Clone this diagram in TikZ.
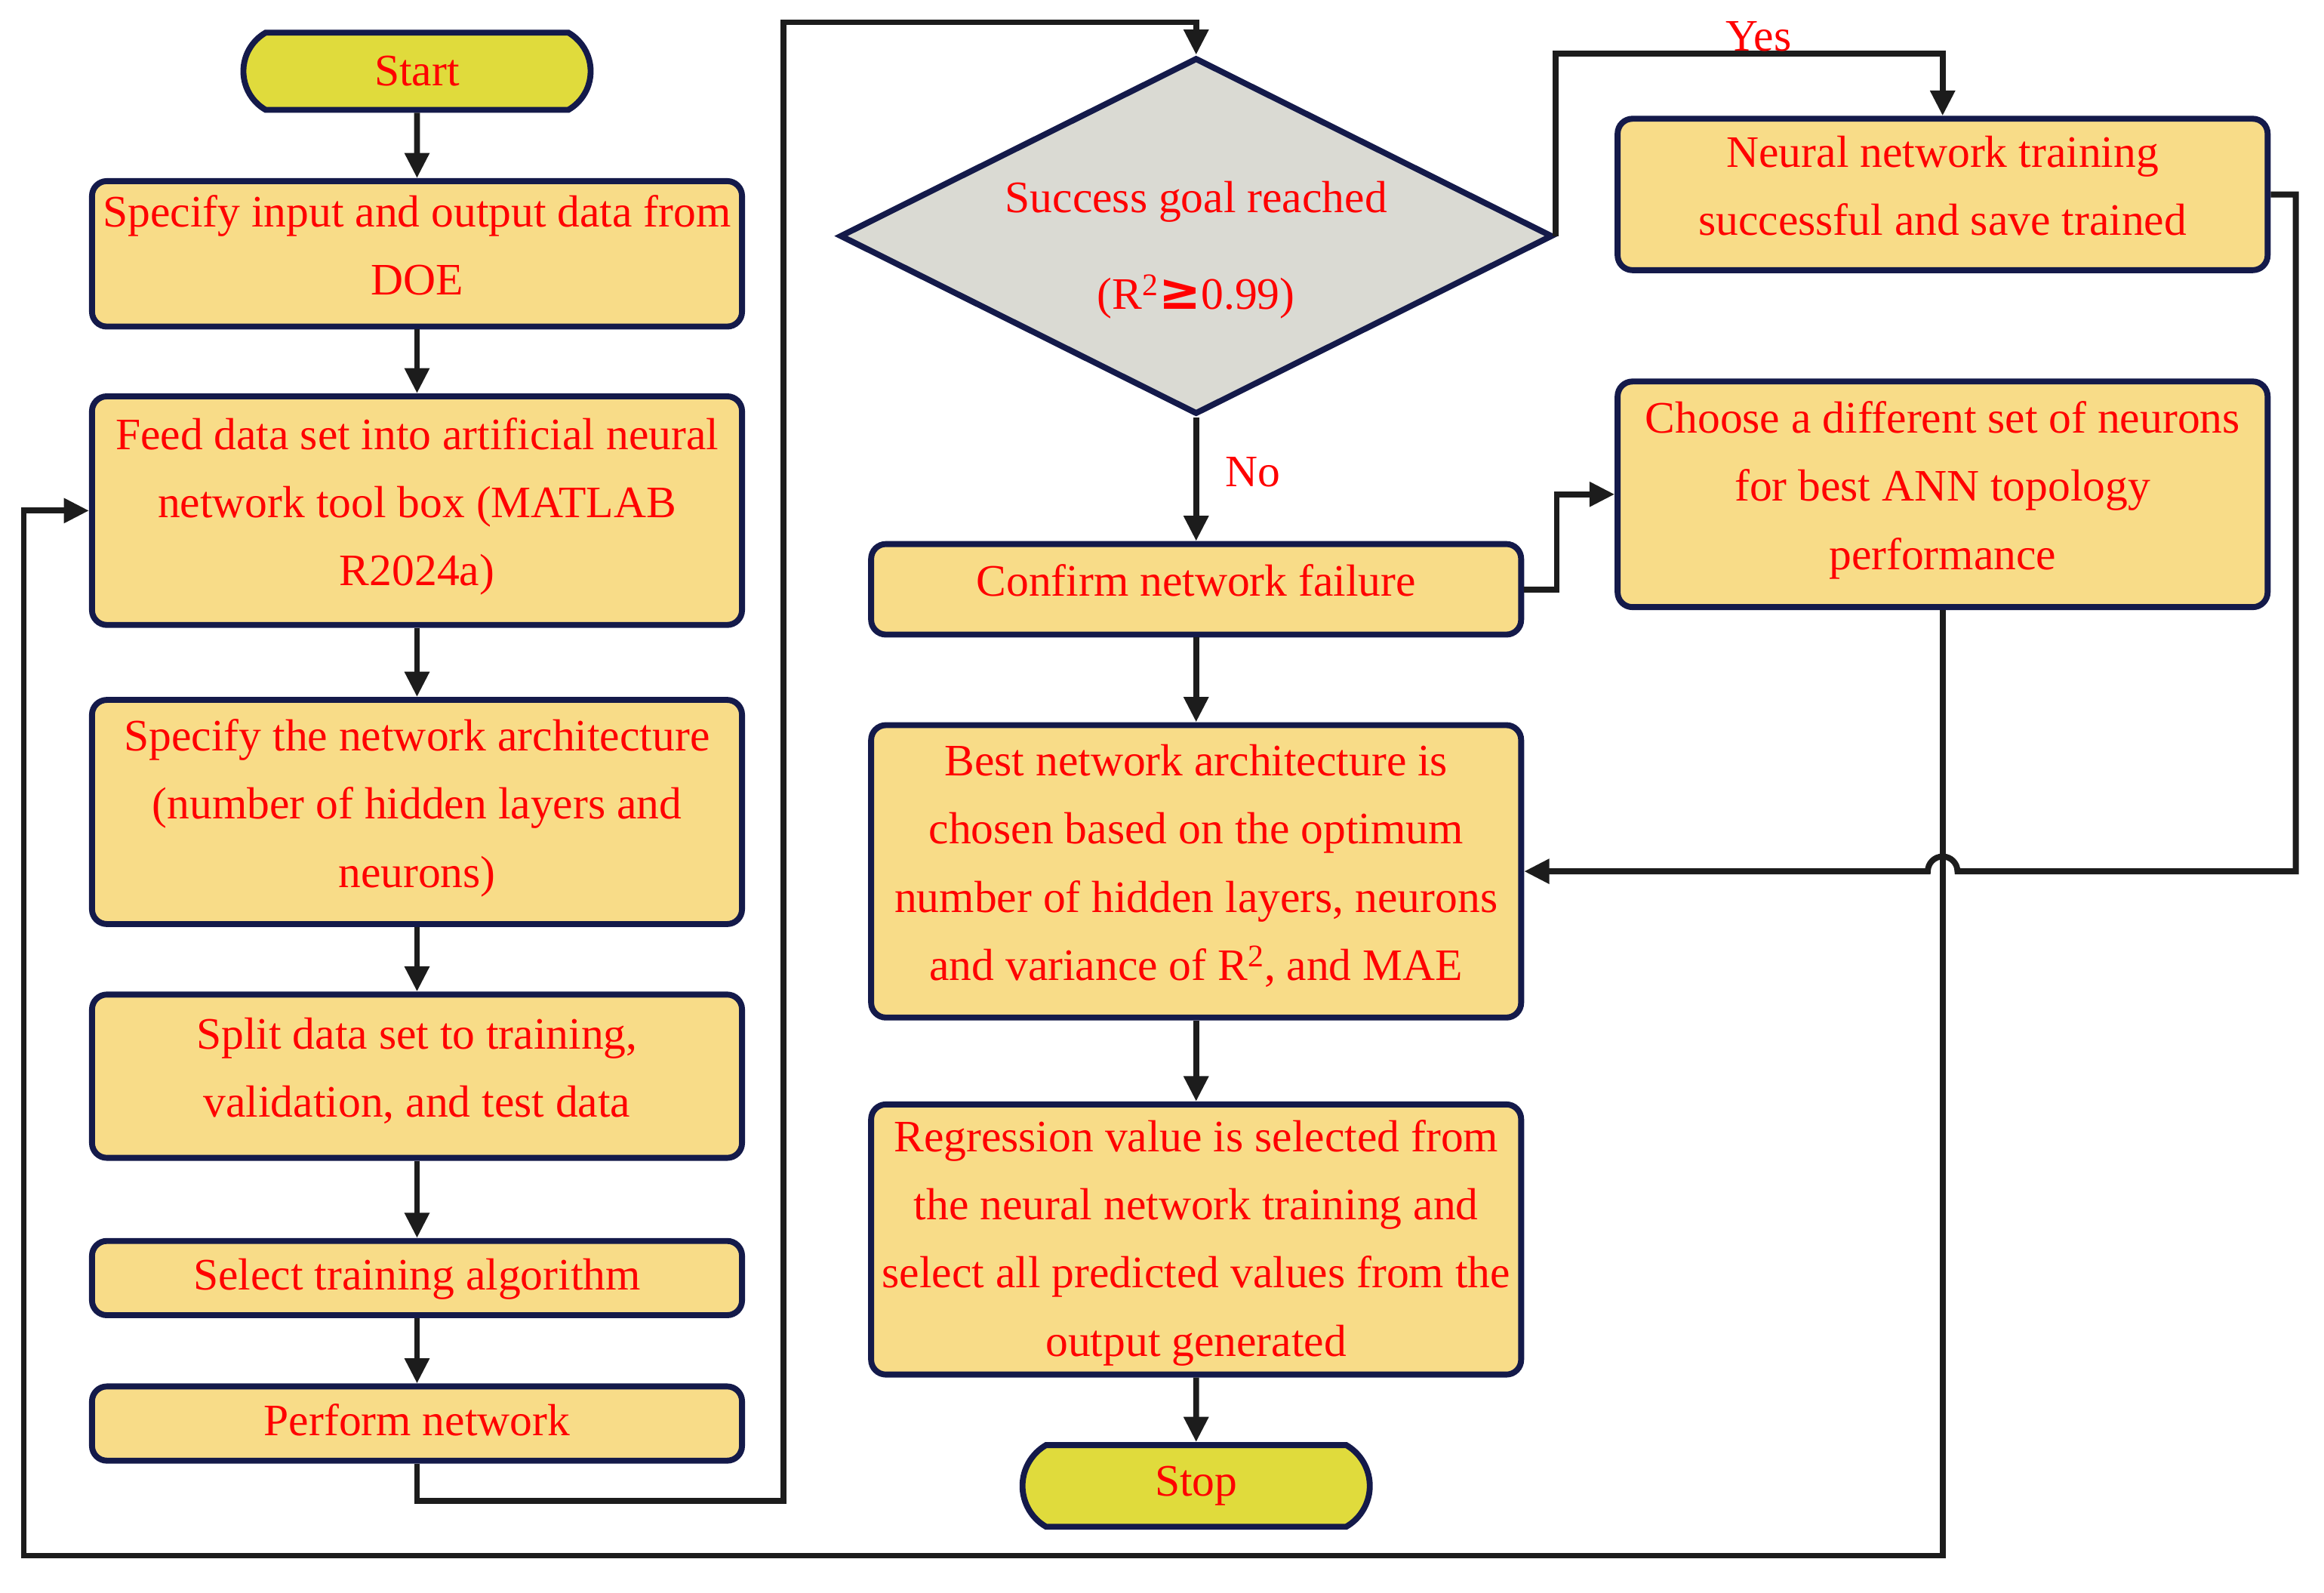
\documentclass[tikz,border=0pt]{standalone}
\usepackage{fontspec}
\setmainfont{Liberation Serif}
\newfontfamily\symbolfont{DejaVu Sans}
\usetikzlibrary{arrows.meta,shapes.geometric,shapes.misc}

\definecolor{boxfill}{HTML}{F8DC88}
\definecolor{termfill}{HTML}{E0DB3C}
\definecolor{decfill}{HTML}{DADAD3}
\definecolor{edgeblue}{HTML}{141A4A}
\definecolor{flowgray}{HTML}{1C1C1C}

\begin{document}
\begin{tikzpicture}[x=1pt, y=1pt,
  base/.style={draw=edgeblue, line width=4pt, text=red, align=center,
    font=\fontsize{30.3}{46}\selectfont, inner sep=3pt},
  box/.style={base, rectangle, rounded corners=10pt, fill=boxfill,
    minimum width=438pt, text depth=12pt},
  term/.style={base, rounded rectangle, rounded rectangle arc length=120,
    fill=termfill, minimum width=240pt, minimum height=52pt},
  decision/.style={base, diamond, aspect=2, fill=decfill, inner sep=0pt,
    minimum width=468pt, minimum height=234pt},
  flow/.style={draw=flowgray, line width=4pt, -{Triangle[length=17pt,width=16pt]}},
  tag/.style={text=red, font=\fontsize{30.3}{36}\selectfont, inner sep=1pt}
]
\useasboundingbox (0,0) rectangle (1566,-1073);

% left column
\node[term] (start) at (281,-48) {Start};
\node[box, minimum height=98pt] (doe) at (281,-171) {Specify input and output data from\\DOE};
\node[box, minimum height=154pt] (feed) at (281,-344) {Feed data set into artificial neural\\network tool box (MATLAB\\R2024a)};
\node[box, minimum height=151pt] (arch) at (281,-547) {Specify the network architecture\\(number of hidden layers and\\neurons)};
\node[box, minimum height=110pt] (split) at (281,-725) {Split data set to training,\\validation, and test data};
\node[box, minimum height=50pt, text depth=5pt] (algo) at (281,-861) {Select training algorithm};
\node[box, minimum height=50pt, text depth=5pt] (perform) at (281,-959) {Perform network};

% middle column
\node[decision] (goal) at (806,-159) {\rule{0pt}{40pt}Success goal reached\\[19pt](R\textsuperscript{2}{\symbolfont\bfseries\fontsize{34}{34}\selectfont ≥}0.99)};
\node[box, minimum height=61pt] (fail) at (806,-397) {Confirm network failure};
\node[box, minimum height=197pt] (best) at (806,-587) {Best network architecture is\\chosen based on the optimum\\number of hidden layers, neurons\\and variance of R\textsuperscript{2}, and MAE};
\node[box, minimum height=182pt, text depth=2pt] (regr) at (806,-835) {Regression value is selected from\\the neural network training and\\select all predicted values from the\\output generated};
\node[term, minimum height=55pt] (stop) at (806,-1001) {Stop};

% right column
\node[box, minimum height=102pt] (saved) at (1309,-131) {Neural network training\\successful and save trained};
\node[box, minimum height=152pt] (choose) at (1309,-333) {Choose a different set of neurons\\for best ANN topology\\performance};

% bends
\coordinate (lowturn) at (528,-1011);
\coordinate (topturn) at (528,-15);
\coordinate (yesbend) at (1185,-36);
\coordinate (hopstart) at (1319,-587);
\coordinate (bottomleft) at (16,-1048);

\foreach \a/\b in {start/doe, doe/feed, feed/arch, arch/split, split/algo,
  algo/perform, goal/fail, fail/best, best/regr, regr/stop} {
  \draw[flow] (\a) -- (\b);
}
\draw[flow] (perform.south) |- (lowturn) -- (topturn) -| (goal.north);
\draw[flow] (goal.east) |- (yesbend) -| (saved.north);
\draw[flow] (fail.east) -- ++(22,0) |- (choose.west);
\draw[flow] (choose.south) |- (bottomleft) |- (feed.west);
\draw[flow] (saved.east) -- ++(17,0) |- (hopstart)
  arc[start angle=0, end angle=180, radius=10pt] -- (best.east);

\node[tag, above] (yes) at (yesbend) {Yes};
\node[tag] (no) at (844,-318) {No};
\end{tikzpicture}
\end{document}
